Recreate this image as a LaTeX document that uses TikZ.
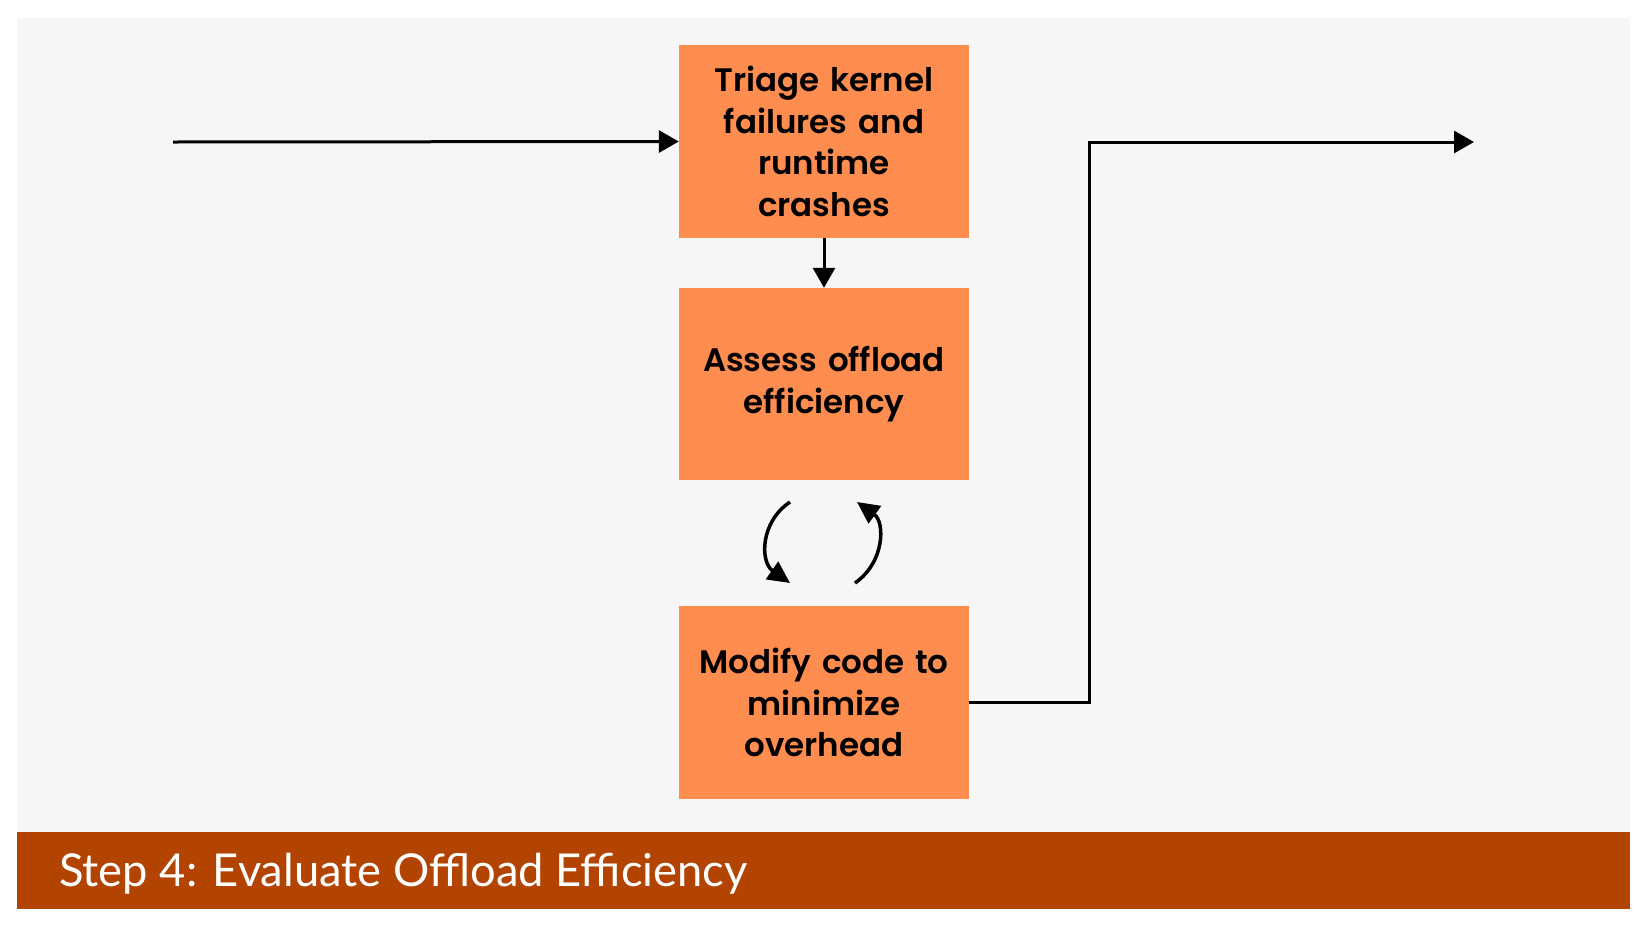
\documentclass[tikz,border=0pt]{standalone}
\usepackage{fontspec}
\setmainfont{Lato}
\newfontfamily\boxfont{Poppins SemiBold}
\newfontfamily\barfont{Lato}
\usetikzlibrary{arrows.meta}
\definecolor{panel}{HTML}{F6F6F6}
\definecolor{boxor}{HTML}{FF8D50}
\definecolor{barbrown}{HTML}{B24400}
\tikzset{
  stepbox/.style={fill=boxor, draw=none, minimum width=290pt, minimum height=193pt,
    align=center, inner sep=0pt, font=\boxfont\fontsize{32.5}{41.5}\selectfont, text width=285pt},
  conn/.style={line width=3pt, -{Triangle[length=20pt,width=22pt]}},
  loop/.style={line width=3.5pt, -{Triangle[length=22pt,width=21pt]}},
}
\begin{document}
\begin{tikzpicture}[x=1pt,y=-1pt]
\useasboundingbox (0,0) rectangle (1648,927);
\fill[white] (0,0) rectangle (1648,927);
\fill[panel] (17,18) rectangle (1630,832);
\fill[barbrown] (17,832) rectangle (1630,909);
\node[anchor=base west, text=white, inner sep=0pt, font=\barfont\fontsize{45.3}{54}\selectfont] (title) at (59,886) {Step 4: Evaluate Offload Efficiency};

\node[stepbox] (triage) at (824,141.5) {Triage kernel\\failures and\\runtime\\crashes};
\node[stepbox, minimum height=192pt] (assess) at (824,384) {Assess offload\\efficiency};
\node[stepbox] (modify) at (824,702.5) {Modify code to\\minimize\\overhead};

\coordinate (in) at (173,142);
\coordinate (out) at (1474,142);
\coordinate (la) at (790,502);
\coordinate (lb) at (790,583);
\coordinate (ra) at (855,583);
\coordinate (rb) at (857,502);

\draw[conn] (in) -- (triage.west);
\draw[conn] (triage.south) -- (assess.north);
\draw[conn] (modify.east) -| (1089,142) -- (out);
\draw[loop] (la) .. controls (760,522) and (760,562) .. (lb);
\draw[loop] (ra) .. controls (885,562) and (885,522) .. (rb);
\end{tikzpicture}
\end{document}
